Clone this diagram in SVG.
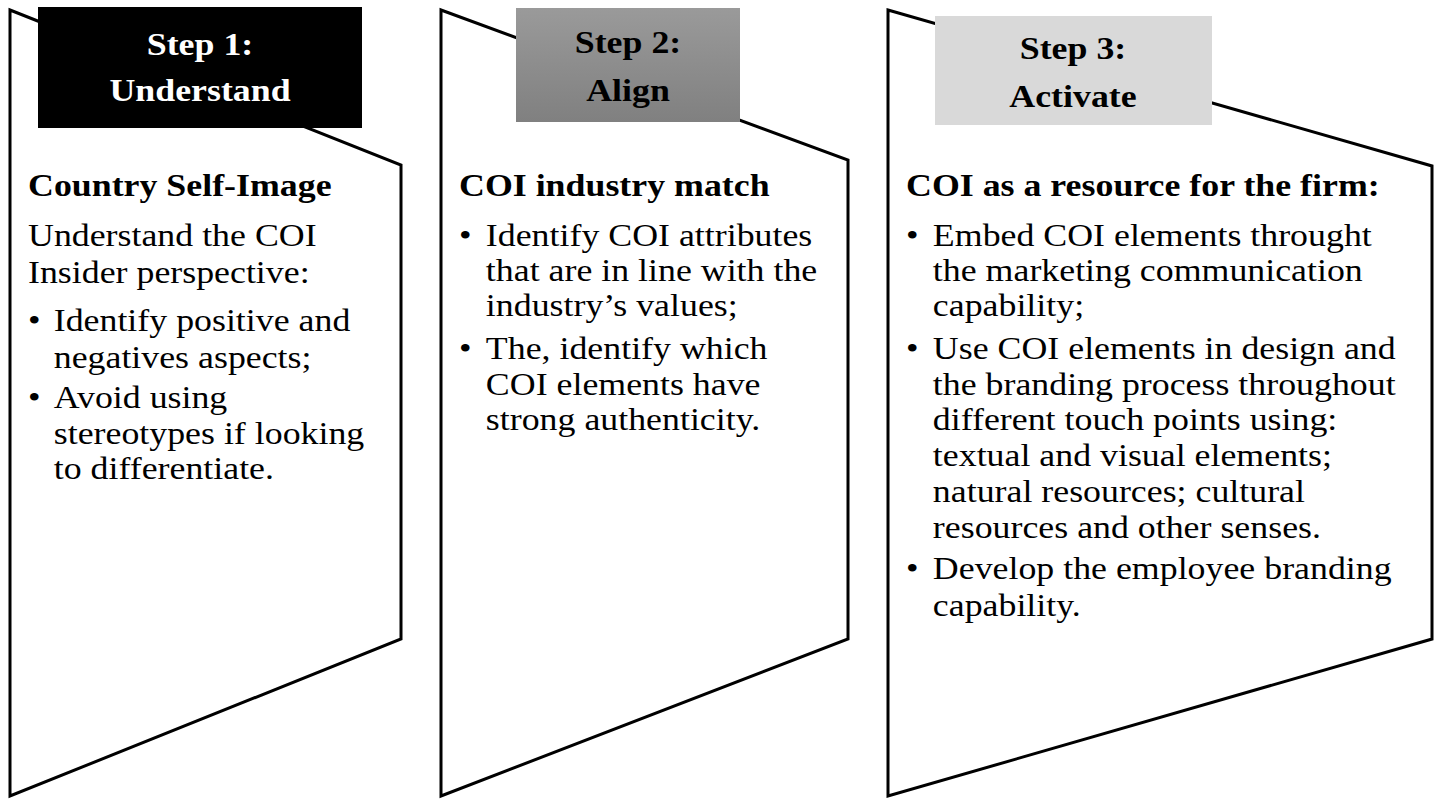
<svg xmlns="http://www.w3.org/2000/svg" width="1440" height="806" viewBox="0 0 1440 806">
<style>
.p{fill:#fff;stroke:#000;stroke-width:3;stroke-linejoin:miter}
text{font-family:"Liberation Serif","Times New Roman",serif;font-size:32px;fill:#000}
.h{font-weight:bold;text-anchor:middle}
.b{font-weight:bold}
.w{fill:#fff}
</style>
<defs>
<linearGradient id="g2" x1="0" y1="0" x2="0" y2="1"><stop offset="0" stop-color="#9a9a9a"/><stop offset="1" stop-color="#808080"/></linearGradient>
</defs>
<rect width="1440" height="806" fill="#fff"/>
<g id="step1">
<polygon class="p" points="10,10 401,165 401,639 10,796"/>
<rect x="38" y="7" width="324" height="121" fill="#000"/>
<g transform="translate(200,0) scale(1.12,1)">
<text class="h w" x="0" y="55">Step 1:</text>
<text class="h w" x="0" y="101">Understand</text>
</g>
<g transform="translate(28,0) scale(1.12,1)">
<text class="b" x="0" y="196">Country Self-Image</text>
<text x="0" y="246">Understand the COI</text>
<text x="0" y="283">Insider perspective:</text>
<text x="0" y="331">•</text><text x="23" y="331">Identify positive and</text>
<text x="23" y="368">negatives aspects;</text>
<text x="0" y="408">•</text><text x="23" y="408">Avoid using</text>
<text x="23" y="444">stereotypes if looking</text>
<text x="23" y="479">to differentiate.</text>
</g>
</g>
<g id="step2">
<polygon class="p" points="441,10 848,160 848,639 441,796"/>
<rect x="516" y="8" width="224" height="114" fill="url(#g2)"/>
<g transform="translate(628,0) scale(1.12,1)">
<text class="h" x="0" y="53">Step 2:</text>
<text class="h" x="0" y="101">Align</text>
</g>
<g transform="translate(459,0) scale(1.12,1)">
<text class="b" x="0" y="196">COI industry match</text>
<text x="0" y="246">•</text><text x="24" y="246">Identify COI attributes</text>
<text x="24" y="281">that are in line with the</text>
<text x="24" y="316">industry’s values;</text>
<text x="0" y="359">•</text><text x="24" y="359">The, identify which</text>
<text x="24" y="395">COI elements have</text>
<text x="24" y="430">strong authenticity.</text>
</g>
</g>
<g id="step3">
<polygon class="p" points="888,10 1432,166 1432,639 888,796"/>
<rect x="935" y="16" width="277" height="109" fill="#d9d9d9"/>
<g transform="translate(1073,0) scale(1.12,1)">
<text class="h" x="0" y="59">Step 3:</text>
<text class="h" x="0" y="107">Activate</text>
</g>
<g transform="translate(906,0) scale(1.12,1)">
<text class="b" x="0" y="196">COI as a resource for the firm:</text>
<text x="0" y="246">•</text><text x="24" y="246">Embed COI elements throught</text>
<text x="24" y="281">the marketing communication</text>
<text x="24" y="316">capability;</text>
<text x="0" y="359">•</text><text x="24" y="359">Use COI elements in design and</text>
<text x="24" y="395">the branding process throughout</text>
<text x="24" y="430">different touch points using:</text>
<text x="24" y="466">textual and visual elements;</text>
<text x="24" y="502">natural resources; cultural</text>
<text x="24" y="538">resources and other senses.</text>
<text x="0" y="579">•</text><text x="24" y="579">Develop the employee branding</text>
<text x="24" y="616">capability.</text>
</g>
</g>
<g id="connectors"/>
</svg>
